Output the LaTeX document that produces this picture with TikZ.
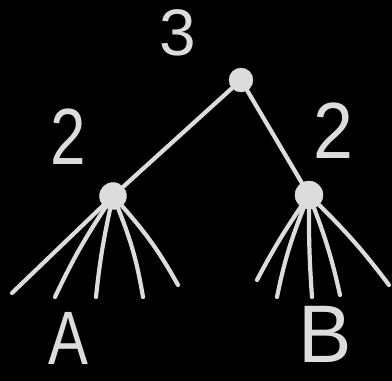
\documentclass[tikz,border=0pt]{standalone}
\usepackage{fontspec}
\setmainfont{Liberation Sans}
\definecolor{chalk}{HTML}{DCDCDC}
\begin{document}
\begin{tikzpicture}[x=1bp,y=-1bp,
  dot/.style={circle,fill=chalk,draw=chalk,inner sep=0pt},
  wire/.style={draw=chalk,line width=4.2bp,line cap=round},
  lbl/.style={text=chalk,inner sep=0pt,anchor=center}]
\fill[black] (0,0) rectangle (392,381);
\useasboundingbox (0,0) rectangle (392,381);
% nodes
\node[dot,minimum size=24bp] (T) at (241,80) {};
\node[dot,minimum size=27bp] (L) at (113,196) {};
\node[dot,minimum size=28bp] (R) at (309,195) {};
% leaf ends
\coordinate (a1) at (12,293);
\coordinate (a2) at (55,297);
\coordinate (a3) at (96,297);
\coordinate (a4) at (143,297);
\coordinate (a5) at (178,285);
\coordinate (b1) at (257,280);
\coordinate (b2) at (277,297);
\coordinate (b3) at (312,297);
\coordinate (b4) at (340,295);
\coordinate (b5) at (389,285);
% edges
\draw[wire] (L) -- (T);
\draw[wire] (T) -- (R);
\draw[wire] (L) -- (a1);
\draw[wire] (L) to[bend right=4] (a2);
\draw[wire] (L) to[bend right=3] (a3);
\draw[wire] (L) to[bend left=6] (a4);
\draw[wire] (L) to[bend left=6] (a5);
\draw[wire] (R) to[bend right=3] (b1);
\draw[wire] (R) to[bend right=5] (b2);
\draw[wire] (R) to[bend right=2] (b3);
\draw[wire] (R) to[bend left=4] (b4);
\draw[wire] (R) to[bend left=4] (b5);
% labels
\node[lbl,font=\fontsize{66}{66}\selectfont] (n3) at (178,33) {3};
\node[lbl,font=\fontsize{80}{80}\selectfont,xscale=0.8,transform shape] (n2l) at (68,137) {2};
\node[lbl,font=\fontsize{80}{80}\selectfont,xscale=0.9,transform shape] (n2r) at (333,131) {2};
\node[lbl,font=\fontsize{76}{76}\selectfont,xscale=0.79,transform shape] (nA) at (68,338) {A};
\node[lbl,font=\fontsize{82}{82}\selectfont,xscale=0.98,transform shape] (nB) at (325,334) {B};
\end{tikzpicture}
\end{document}
